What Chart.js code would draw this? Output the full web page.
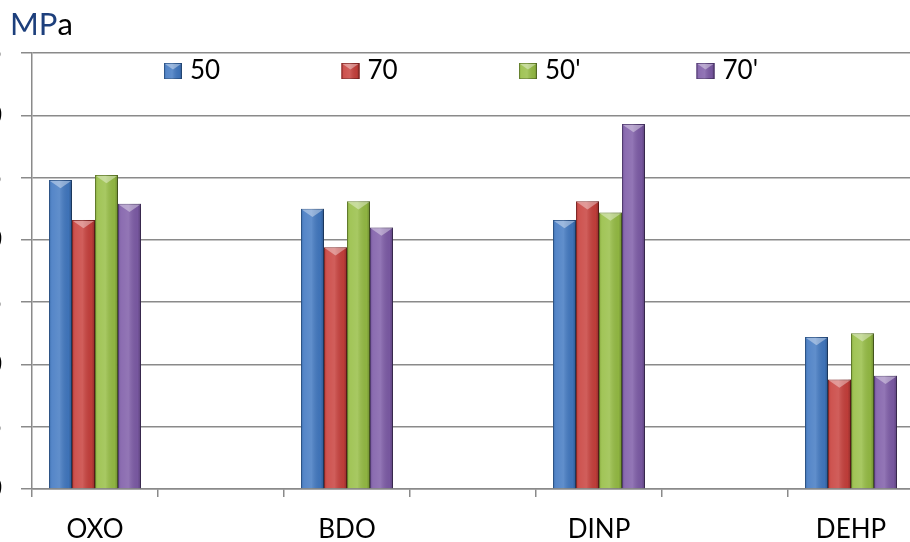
<!DOCTYPE html>
<html>
<head>
<meta charset="utf-8">
<script src="https://cdn.jsdelivr.net/npm/chart.js@4.4.1/dist/chart.umd.min.js"></script>
<style>
  html, body { margin: 0; padding: 0; background: #fff; overflow: hidden; }
  #wrap { position: absolute; left: -28px; top: 0; width: 960px; height: 542px; }
</style>
</head>
<body>
<div id="wrap"><canvas id="c"></canvas></div>
<script>
// Plasticizer groups and tensile values (MPa)
const groups = ['OXO', 'BDO', 'DINP', 'DEHP'];
const seriesNames = ['50', '70', "50'", "70'"];
const s50  = [24.8, 22.5, 21.6, 12.2];
const s70  = [21.6, 19.4, 23.1, 8.8];
const s50p = [25.2, 23.1, 22.2, 12.5];
const s70p = [22.9, 21.0, 29.3, 9.1];
const yTicks = [0, 5, 10, 15, 20, 25, 30, 35];
const colors = ['#4279C2', '#C8403C', '#97BE45', '#7E5CA8'];
const edgeColors = ['#2E5A94', '#8E2A28', '#6C8A2E', '#583F7A'];

// Groups are separated by an empty slot on the category axis
const labels = [];
groups.forEach((g, i) => { if (i > 0) labels.push(''); labels.push(g); });
function spread(arr) {
  const out = [];
  arr.forEach((v, i) => { if (i > 0) out.push(null); out.push(v); });
  return out;
}
const seriesData = [s50, s70, s50p, s70p];

const FONT = 'Lato, "Open Sans", sans-serif';

// Soft shadow behind each bar
const barShadow = {
  id: 'barShadow',
  beforeDatasetDraw(chart) {
    const ctx = chart.ctx;
    ctx.save();
    ctx.shadowColor = 'rgba(0,0,0,0.28)';
    ctx.shadowBlur = 5;
    ctx.shadowOffsetX = 2;
    ctx.shadowOffsetY = 1;
  },
  afterDatasetDraw(chart) { chart.ctx.restore(); }
};

// Bevelled look: side shading plus a light chevron on top of each bar
function bevel(ctx, left, top, w, h) {
  const g = ctx.createLinearGradient(left, 0, left + w, 0);
  g.addColorStop(0, 'rgba(0,0,0,0.10)');
  g.addColorStop(0.12, 'rgba(255,255,255,0.10)');
  g.addColorStop(0.45, 'rgba(255,255,255,0.16)');
  g.addColorStop(0.85, 'rgba(0,0,0,0.06)');
  g.addColorStop(1, 'rgba(0,0,0,0.28)');
  ctx.fillStyle = g;
  ctx.fillRect(left, top, w, h);
  const d = Math.min(w * 0.36, h);
  ctx.beginPath();
  ctx.moveTo(left + 1, top + 1);
  ctx.lineTo(left + w - 1, top + 1);
  ctx.lineTo(left + w / 2, top + d);
  ctx.closePath();
  ctx.fillStyle = 'rgba(255,255,255,0.38)';
  ctx.fill();
}

const barBevel = {
  id: 'barBevel',
  afterDatasetsDraw(chart) {
    const ctx = chart.ctx;
    ctx.save();
    chart.data.datasets.forEach((ds, di) => {
      const meta = chart.getDatasetMeta(di);
      meta.data.forEach((el, i) => {
        if (ds.data[i] == null) return;
        const p = el.getProps(['x', 'y', 'width', 'base'], true);
        const left = p.x - p.width / 2;
        bevel(ctx, left, p.y, p.width, p.base - p.y);
      });
    });
    ctx.restore();
  }
};

// Unit title and the legend row inside the plot area
const decorations = {
  id: 'decorations',
  afterDraw(chart) {
    const ctx = chart.ctx;
    ctx.save();
    ctx.font = '31px ' + FONT;
    ctx.textBaseline = 'alphabetic';
    ctx.textAlign = 'left';
    ctx.fillStyle = '#1D3F7C';
    ctx.fillText('MP', 38, 35);
    const wMP = ctx.measureText('MP').width;
    ctx.fillStyle = '#000';
    ctx.fillText('a', 38 + wMP, 35);

    ctx.font = '26px ' + FONT;
    chart.data.datasets.forEach((ds, i) => {
      const x = 192 + i * 177.5;
      const y = 63;
      ctx.fillStyle = colors[i];
      ctx.fillRect(x, y, 18, 16);
      ctx.strokeStyle = edgeColors[i];
      ctx.lineWidth = 1;
      ctx.strokeRect(x + 0.5, y + 0.5, 17, 15);
      bevel(ctx, x, y, 18, 16);
      ctx.fillStyle = '#000';
      ctx.fillText(ds.label, x + 26, 79);
    });
    ctx.restore();
  }
};

new Chart(document.getElementById('c'), {
  type: 'bar',
  data: {
    labels: labels,
    datasets: seriesData.map((arr, i) => ({
      label: seriesNames[i],
      data: spread(arr),
      backgroundColor: colors[i],
      borderColor: edgeColors[i],
      borderWidth: 1,
      barPercentage: 1.0,
      categoryPercentage: 0.73
    }))
  },
  options: {
    responsive: true,
    maintainAspectRatio: false,
    animation: false,
    layout: { padding: { top: 53, right: 18, left: 0, bottom: 0 } },
    plugins: { legend: { display: false }, tooltip: { enabled: false } },
    scales: {
      x: {
        grid: {
          display: true,
          offset: true,
          drawOnChartArea: false,
          drawTicks: true,
          tickLength: 8,
          color: '#8A8A8A',
          lineWidth: 1.5
        },
        border: { color: '#8A8A8A', width: 1.5 },
        ticks: {
          autoSkip: false,
          maxRotation: 0,
          padding: 17,
          color: '#000',
          font: { family: FONT, size: 26 }
        },
        afterFit(scale) { scale.height = 53; }
      },
      y: {
        min: 0,
        max: 35,
        afterBuildTicks(scale) { scale.ticks = yTicks.map(v => ({ value: v })); },
        grid: {
          color: '#8A8A8A',
          lineWidth: 1.5,
          drawTicks: true,
          tickLength: 11
        },
        border: { color: '#8A8A8A', width: 1.5 },
        ticks: {
          padding: 19,
          color: '#000',
          font: { family: FONT, size: 26 }
        },
        afterFit(scale) { scale.width = 60; }
      }
    }
  },
  plugins: [barShadow, barBevel, decorations]
});
</script>
</body>
</html>
